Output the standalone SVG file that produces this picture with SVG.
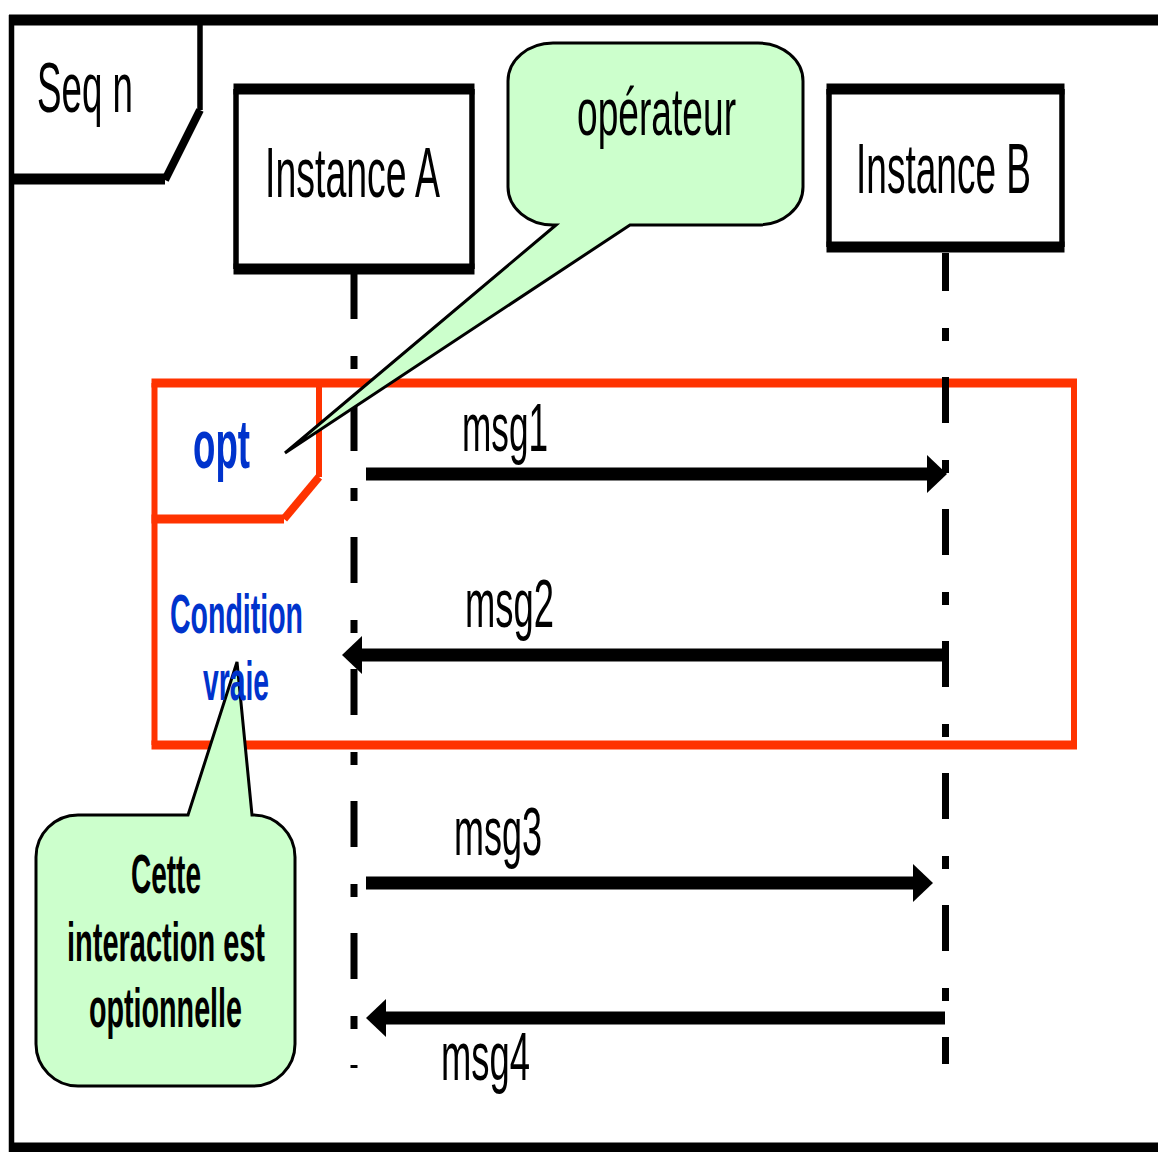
<svg xmlns="http://www.w3.org/2000/svg" width="1158" height="1152" viewBox="0 0 1158 1152">
<style>
.h{stroke:#000;stroke-width:11;fill:none}
.v{stroke:#000;stroke-width:5.5;fill:none}
.rh{stroke:#FF3300;stroke-width:9;fill:none}
.rv{stroke:#FF3300;stroke-width:6;fill:none}
.t{font-family:"Liberation Sans",Arial,sans-serif;fill:#000}
.b{font-weight:bold}
.blue{fill:#0033CC}
.life{stroke:#000;stroke-width:7;stroke-dasharray:46 37 13 36;fill:none}
.msg{stroke:#000;stroke-width:13;fill:none;marker-end:url(#head)}
.bub{fill:#CCFFCC;stroke:#000;stroke-width:3}
</style>
<defs>
<marker id="head" markerUnits="userSpaceOnUse" markerWidth="21" markerHeight="38" refX="0" refY="19" orient="auto" overflow="visible">
<path d="M0,0 L20,19 L0,38 Z" fill="#000"/>
</marker>
</defs>
<rect width="1158" height="1152" fill="#fff"/>
<g id="frame-seq">
<path class="h" d="M9,20 H1158 M9,1148 H1158 M9,179 H165"/>
<path class="v" d="M11.5,15 V1152 M200,20 V110"/>
<path stroke="#000" stroke-width="8" fill="none" d="M200,110 L165,180"/>
<text class="t" x="37" y="112" font-size="70" textLength="96" lengthAdjust="spacingAndGlyphs">Seq n</text>
</g>
<g id="instance-a">
<rect x="236" y="89" width="236" height="180" fill="#fff"/>
<path class="h" d="M233.5,89 H474.5 M233.5,269 H474.5"/>
<path class="v" d="M236,89 V269 M472,89 V269"/>
<text class="t" x="352.5" y="197" font-size="70" text-anchor="middle" textLength="175" lengthAdjust="spacingAndGlyphs">Instance A</text>
</g>
<g id="instance-b">
<rect x="829" y="89" width="233" height="158" fill="#fff"/>
<path class="h" d="M826.5,89 H1064.5 M826.5,247 H1064.5"/>
<path class="v" d="M829,89 V247 M1062,89 V247"/>
<text class="t" transform="translate(943.5,193) scale(0.529,1)" x="0" y="0" font-size="70" text-anchor="middle">Instance B</text>
</g>
<g id="opt-frame">
<path class="rh" d="M151.5,383 H1077 M151.5,745 H1077 M151.5,519 H284"/>
<path class="rv" d="M154.5,383 V745 M1074,383 V745 M319,383 V477"/>
<path stroke="#FF3300" stroke-width="8" fill="none" d="M319,477 L284,519"/>
<text class="t b blue" x="193" y="468" font-size="68" textLength="57" lengthAdjust="spacingAndGlyphs">opt</text>
</g>
<g id="connectors">
<line class="life" x1="354" y1="273" x2="354" y2="1068"/>
<line class="life" x1="945.5" y1="253" x2="945.5" y2="1064" stroke-dashoffset="8"/>
<line class="msg" x1="366" y1="474" x2="927" y2="474"/>
<line class="msg" x1="945" y1="655" x2="362" y2="655"/>
<line class="msg" x1="366" y1="883" x2="913" y2="883"/>
<line class="msg" x1="945" y1="1018" x2="386" y2="1018"/>
<text class="t" x="462" y="451" font-size="68" textLength="86" lengthAdjust="spacingAndGlyphs">msg1</text>
<text class="t" x="465" y="627" font-size="68" textLength="89" lengthAdjust="spacingAndGlyphs">msg2</text>
<text class="t" x="454" y="855" font-size="68" textLength="88" lengthAdjust="spacingAndGlyphs">msg3</text>
<text class="t" x="441" y="1080" font-size="68" textLength="89" lengthAdjust="spacingAndGlyphs">msg4</text>
</g>
<g id="note-operateur">
<path class="bub" d="M556,225 L285,453 L630,225 H758 A45,38 0 0 0 803,187 V81 A45,38 0 0 0 758,43 H553 A45,38 0 0 0 508,81 V187 A45,38 0 0 0 553,225 Z"/>
<text class="t" x="577" y="135" font-size="66" textLength="159" lengthAdjust="spacingAndGlyphs">opérateur</text>
</g>
<g id="note-optionnelle">
<path class="bub" d="M78,815 H188 L237,662 L252,815 H253 A42,42 0 0 1 295,857 V1044 A42,42 0 0 1 253,1086 H78 A42,42 0 0 1 36,1044 V857 A42,42 0 0 1 78,815 Z"/>
<text class="t b" x="131" y="893" font-size="56" textLength="70" lengthAdjust="spacingAndGlyphs">Cette</text>
<text class="t b" x="67" y="961" font-size="56" textLength="198" lengthAdjust="spacingAndGlyphs">interaction est</text>
<text class="t b" x="89" y="1027" font-size="56" textLength="153" lengthAdjust="spacingAndGlyphs">optionnelle</text>
</g>
<g id="opt-condition">
<text class="t b blue" x="170" y="633" font-size="56" textLength="133" lengthAdjust="spacingAndGlyphs">Condition</text>
<text class="t b blue" x="203" y="700" font-size="56" textLength="66" lengthAdjust="spacingAndGlyphs">vraie</text>
</g>
</svg>
